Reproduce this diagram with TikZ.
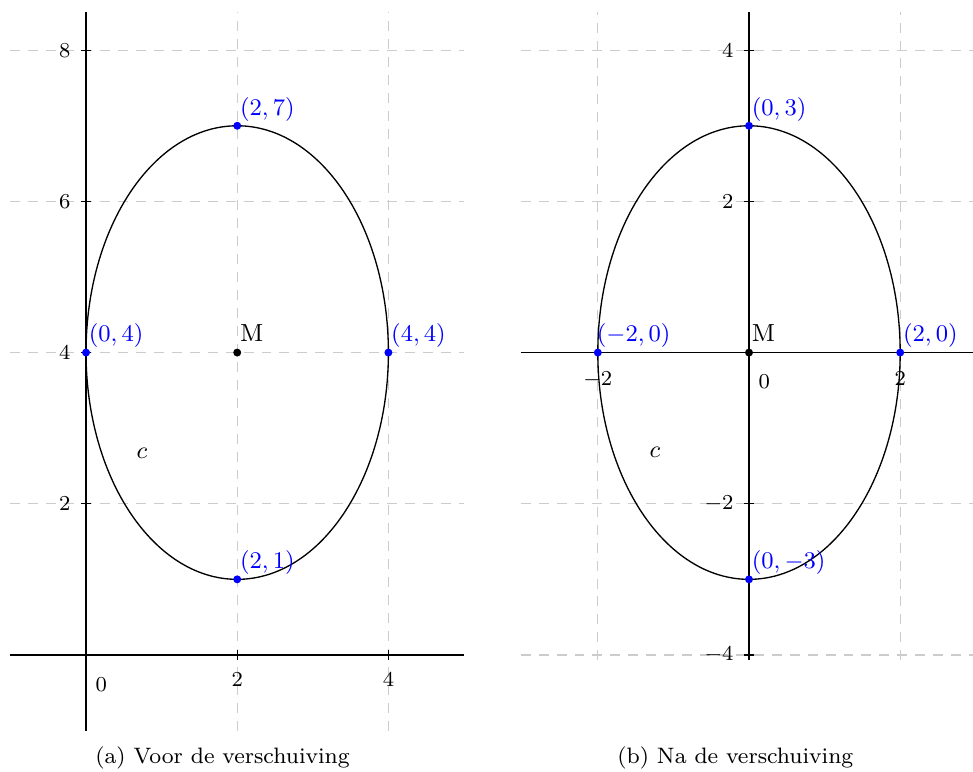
\documentclass[tikz,border=0pt]{standalone}
\usetikzlibrary{calc}

\begin{document}
\begin{tikzpicture}[x=1cm, y=1cm,
    gridln/.style={gray!40, line width=0.5pt, dash pattern=on 3.75pt off 3pt},
    axisln/.style={black, line width=0.45pt},
    ticklab/.style={inner sep=0pt, font=\fontsize{7.7}{9}\selectfont},
    ptlab/.style={anchor=base west, inner sep=0pt, xshift=0.03cm, yshift=0.14cm,
                  blue, font=\fontsize{9.3}{11}\selectfont},
    mlab/.style={ptlab, black},
    caplab/.style={anchor=base, inner sep=0pt, font=\fontsize{8.4}{10}\selectfont}]
  \def\shx{8.77}   % origin of the shifted picture
  \def\shy{4}
  \def\r{1.5pt}    % dot radius
  \useasboundingbox (-1.138,-1.548) rectangle (11.733,8.664);

  % (a) ellipse with centre M(2,4)
  \foreach \x in {2,4} \draw[gridln] (\x,-1) -- (\x,8.5);
  \foreach \y in {2,4,6,8} \draw[gridln] (-1,\y) -- (5,\y);
  \draw[axisln] (-1,0) -- (5,0);
  \draw[axisln] (0,-1) -- (0,8.5);
  \foreach \x in {2,4} {
    \draw[axisln] (\x,-0.07) -- (\x,0.07);
    \node[ticklab, anchor=north] (xa\x) at (\x,-0.225) {$\x$};
  }
  \foreach \y in {2,4,6,8} {
    \draw[axisln] (-0.07,\y) -- (0.07,\y);
    \node[ticklab, anchor=east] (ya\y) at (-0.2,\y) {$\y$};
  }
  \node[ticklab, anchor=north west] (oa) at (0.12,-0.29) {$0$};
  \draw[line width=0.5pt] (2,4) ellipse [x radius=2, y radius=3];
  \coordinate (Ma) at (2,4);
  \coordinate (Ta) at (2,7);
  \coordinate (Ba) at (2,1);
  \coordinate (La) at (0,4);
  \coordinate (Ra) at (4,4);
  \foreach \p in {Ta,Ba,La,Ra} \fill[blue] (\p) circle (\r);
  \fill (Ma) circle (\r);
  \node[ptlab] (lTa) at (Ta) {$(2,7)$};
  \node[ptlab] (lBa) at (Ba) {$(2,1)$};
  \node[ptlab] (lLa) at (La) {$(0,4)$};
  \node[ptlab] (lRa) at (Ra) {$(4,4)$};
  \node[mlab] (lMa) at (Ma) {M};
  \node[font=\fontsize{9.3}{11}\selectfont] (ca) at (0.74,2.67) {$c$};
  \node[caplab] (capa) at (1.806,-1.44) {(a) Voor de verschuiving};

  % (b) the same ellipse, centre moved to the origin
  \begin{scope}[shift={(\shx,\shy)}]
    \foreach \x in {-2,2} \draw[gridln] (\x,-4.07) -- (\x,4.51);
    \foreach \y in {-4,-2,2,4} \draw[gridln] (-3.02,\y) -- (2.96,\y);
    \draw[axisln] (-3.02,0) -- (2.96,0);
    \draw[axisln] (0,-4.07) -- (0,4.51);
    \foreach \x in {-2,2} {
      \draw[axisln] (\x,-0.07) -- (\x,0.07);
      \node[ticklab, anchor=north] (xb\x) at (\x,-0.25) {$\x$};
    }
    \foreach \y in {-4,-2,2,4} {
      \draw[axisln] (-0.07,\y) -- (0.07,\y);
      \node[ticklab, anchor=east] (yb\y) at (-0.2,\y) {$\y$};
    }
    \node[ticklab, anchor=north west] (ob) at (0.12,-0.29) {$0$};
    \draw[line width=0.5pt] (0,0) ellipse [x radius=2, y radius=3];
    \coordinate (Mb) at (0,0);
    \coordinate (Tb) at (0,3);
    \coordinate (Bb) at (0,-3);
    \coordinate (Lb) at (-2,0);
    \coordinate (Rb) at (2,0);
    \foreach \p in {Tb,Bb,Lb,Rb} \fill[blue] (\p) circle (\r);
    \fill (Mb) circle (\r);
    \node[ptlab] (lTb) at (Tb) {$(0,3)$};
    \node[ptlab] (lBb) at (Bb) {$(0,-3)$};
    \node[ptlab, xshift=-0.05cm] (lLb) at (Lb) {$(-2,0)$};
    \node[ptlab] (lRb) at (Rb) {$(2,0)$};
    \node[mlab] (lMb) at (Mb) {M};
    \node[font=\fontsize{9.3}{11}\selectfont] (cb) at (-1.243,-1.32) {$c$};
    \node[caplab] (capb) at (-0.18,-5.44) {(b) Na de verschuiving};
  \end{scope}
\end{tikzpicture}
\end{document}
